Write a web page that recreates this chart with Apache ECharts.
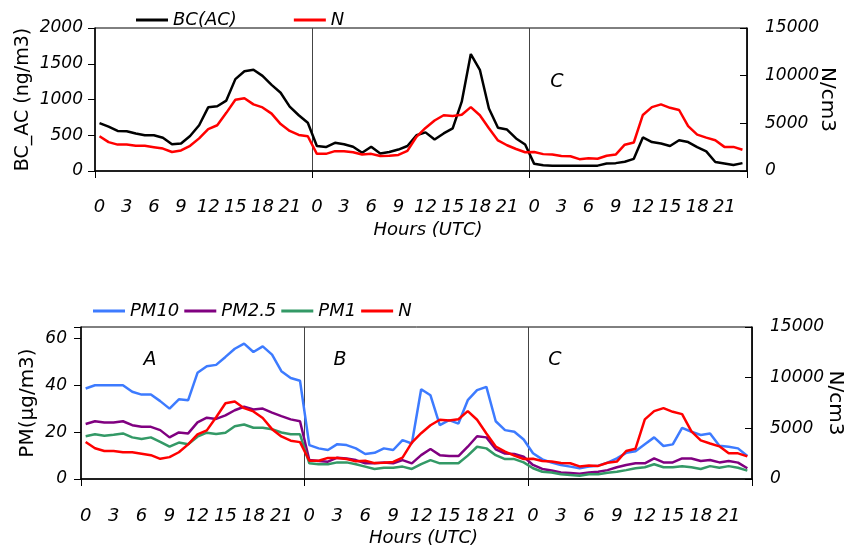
<!DOCTYPE html>
<html><head><meta charset="utf-8">
<script src="https://cdn.jsdelivr.net/npm/echarts@6/dist/echarts.min.js"></script>
<style>html,body{margin:0;padding:0;background:#fff}#c{width:844px;height:550px}</style>
</head><body><div id="c"></div>
<script>
// ---- data ----
const days = ['A', 'B', 'C'];
const hourTickLabels = ['0', '3', '6', '9', '12', '15', '18', '21'];

const bcA = [670,620,560,557,525,500,500,465,375,385,490,640,890,905,985,1285,1395,1415,1330,1205,1095,900,780,675];
const bcB = [350,335,395,375,340,255,340,245,265,300,350,500,540,440,525,595,970,1635,1415,875,605,580,455,370];
const bcC = [100,80,75,75,75,75,75,75,105,110,130,170,470,405,385,350,430,405,335,275,125,105,85,110];

const nA = [3650,3030,2770,2770,2640,2640,2500,2350,1990,2160,2640,3420,4400,4800,6100,7470,7640,6990,6670,6020,4920,4200,3780,3640];
const nB = [1800,1800,2080,2080,1970,1740,1800,1570,1600,1680,2110,3590,4520,5300,5850,5770,5900,6700,5850,4490,3210,2700,2310,1970];
const nC = [1990,1770,1720,1570,1550,1240,1330,1290,1600,1720,2760,2990,5880,6700,6990,6630,6400,4700,3810,3500,3220,2530,2530,2230];

const pm10A = [38.7,40.1,40.1,40.1,40.1,37.3,36.1,36.1,33.3,30.1,34.1,33.7,45.4,48.2,48.8,52.2,55.7,57.9,54.3,56.7,53.2,46.1,43.2,42.0];
const pm10B = [14.5,13.1,12.4,14.9,14.5,13.1,10.7,11.2,13.1,12.4,16.6,15.2,38.4,35.8,23.0,25.2,23.7,33.7,38.0,39.4,24.7,20.9,20.2,16.9];
const pm10C = [11.0,8.4,7.0,6.0,5.3,4.6,5.3,5.7,7.0,8.8,11.2,11.9,14.9,17.8,14.1,14.8,21.9,20.2,18.8,19.5,14.2,13.8,13.1,9.8];

const pm25A = [23.5,24.7,24.2,24.2,24.7,23.0,22.3,22.3,20.9,17.8,19.9,19.5,24.2,26.2,25.7,27.2,29.4,30.9,29.7,30.1,28.4,26.9,25.5,24.7];
const pm25B = [8.1,7.7,7.4,9.1,8.8,8.1,6.7,6.7,7.1,6.7,8.1,6.7,10.2,12.8,10.2,9.8,9.8,13.8,18.3,17.8,12.7,10.9,10.7,9.5];
const pm25C = [6.0,4.3,3.6,2.8,2.6,2.3,2.8,3.1,3.8,5.0,6.0,6.7,6.7,8.8,7.1,7.1,8.8,8.8,7.7,8.1,7.1,7.7,7.0,4.6];

const pm1A = [18.3,19.1,18.5,18.9,19.5,17.8,17.1,17.8,15.9,13.8,15.6,14.9,18.1,19.8,19.2,19.8,22.6,23.3,21.9,21.9,21.3,19.9,19.1,19.1];
const pm1B = [6.7,6.3,6.3,7.1,7.1,6.3,5.3,4.3,4.8,4.8,5.3,4.3,6.4,8.1,6.7,6.7,6.7,10.0,13.8,13.1,10.2,8.5,8.5,7.1];
const pm1C = [4.6,3.1,2.8,2.0,1.7,1.4,2.0,2.0,2.7,3.1,3.8,4.6,5.0,6.3,5.0,5.0,5.5,5.0,4.3,5.5,4.8,5.5,4.8,3.6];

// ---- build ----
const categories = [];
days.forEach(d => { for (let h = 0; h < 24; h++) categories.push(d + '|' + h); });
const bc = [...bcA, ...bcB, ...bcC];
const nVals = [...nA, ...nB, ...nC];
const pm10 = [...pm10A, ...pm10B, ...pm10C];
const pm25 = [...pm25A, ...pm25B, ...pm25C];
const pm1 = [...pm1A, ...pm1B, ...pm1C];

const FONT = 'DejaVu Sans';
const ital = (size) => ({ fontFamily: FONT, fontStyle: 'italic', fontSize: size, color: '#000' });
const upr = (size) => ({ fontFamily: FONT, fontStyle: 'normal', fontSize: size, color: '#000' });

function xAxisFor(gi, margin) {
  return {
    gridIndex: gi, type: 'category', data: categories, boundaryGap: true,
    axisLine: { lineStyle: { color: '#000', width: 1.5 } },
    axisTick: { show: true, interval: (i) => i % 24 === 0, length: 7, lineStyle: { color: '#000', width: 1 } },
    splitLine: { show: true, interval: (i) => i % 24 === 0 && i > 0, lineStyle: { color: '#444', width: 1 } },
    axisLabel: Object.assign(ital(18), {
      interval: (i, v) => hourTickLabels.indexOf(String(v).split('|')[1]) >= 0,
      formatter: (v) => String(v).split('|')[1], margin: margin
    }),
    name: 'Hours (UTC)', nameLocation: 'middle', nameGap: 50, nameMoveOverlap: false,
    nameTextStyle: Object.assign(ital(18), { padding: [0, 0, 0, 14] })
  };
}
function yAxisFor(gi, pos, max, interval, name, nameGap, nameRotate, labelMargin, inside, nameSize) {
  return {
    gridIndex: gi, type: 'value', position: pos, min: 0, max: max, interval: interval,
    axisLine: { show: true, lineStyle: { color: '#000', width: 1.5 } },
    axisTick: { show: true, inside: inside, length: 7, lineStyle: { color: '#000' } },
    splitLine: { show: false },
    axisLabel: Object.assign(ital(17), { margin: labelMargin,
      formatter: (v) => (v % interval === 0 ? String(v) : '') }),
    name: name, nameLocation: 'middle', nameGap: nameGap, nameRotate: nameRotate,
    nameMoveOverlap: false,
    nameTextStyle: upr(nameSize)
  };
}
const line = (name, data, color, xi, yi) => ({
  name, type: 'line', data, xAxisIndex: xi, yAxisIndex: yi, symbol: 'none',
  lineStyle: { color, width: 2.5 }, itemStyle: { color }, z: 3
});

const option = {
  animation: false,
  backgroundColor: '#fff',
  grid: [
    { left: 95, right: 97, top: 28, height: 143, outerBoundsMode: 'none', containLabel: false, show: true, borderColor: '#000', borderWidth: 1, backgroundColor: 'transparent' },
    { left: 81, right: 92, top: 327, height: 152, outerBoundsMode: 'none', containLabel: false, show: true, borderColor: '#000', borderWidth: 1, backgroundColor: 'transparent' }
  ],
  legend: [
    { left: 131, top: 6, itemGap: 57, icon: 'rect', itemWidth: 32, itemHeight: 3, textStyle: ital(18), data: ['BC(AC)', 'N'] },
    { left: 88, top: 297, itemGap: 5, icon: 'rect', itemWidth: 32, itemHeight: 3, textStyle: ital(18), data: ['PM10', 'PM2.5', 'PM1', 'N'] }
  ],
  xAxis: [xAxisFor(0, 27), xAxisFor(1, 28)],
  yAxis: [
    yAxisFor(0, 'left', 2000, 500, 'BC_AC (ng/m3)', 62, 90, 12, false, 19),
    yAxisFor(0, 'right', 15000, 5000, 'N/cm3', 70, -90, 18, true, 20),
    yAxisFor(1, 'left', 65, 20, 'PM(µg/m3)', 43, 90, 14, false, 20),
    yAxisFor(1, 'right', 15000, 5000, 'N/cm3', 73, -90, 18, true, 20)
  ],
  series: [
    line('BC(AC)', bc, '#000000', 0, 0),
    line('N', nVals, '#ff0000', 0, 1),
    line('PM10', pm10, '#3d7bff', 1, 2),
    line('PM2.5', pm25, '#800080', 1, 2),
    line('PM1', pm1, '#339966', 1, 2),
    line('N', nVals, '#ff0000', 1, 3)
  ],
  graphic: [
    { type: 'text', x: 557, y: 82, style: { text: 'C', align: 'center', verticalAlign: 'middle', font: 'italic 19px "DejaVu Sans"', fill: '#000' } },
    { type: 'text', x: 150, y: 360, style: { text: 'A', align: 'center', verticalAlign: 'middle', font: 'italic 19px "DejaVu Sans"', fill: '#000' } },
    { type: 'text', x: 340, y: 360, style: { text: 'B', align: 'center', verticalAlign: 'middle', font: 'italic 19px "DejaVu Sans"', fill: '#000' } },
    { type: 'text', x: 555, y: 360, style: { text: 'C', align: 'center', verticalAlign: 'middle', font: 'italic 19px "DejaVu Sans"', fill: '#000' } }
  ]
};
const chart = echarts.init(document.getElementById('c'), null, { renderer: 'canvas' });
chart.setOption(option);
</script></body></html>
